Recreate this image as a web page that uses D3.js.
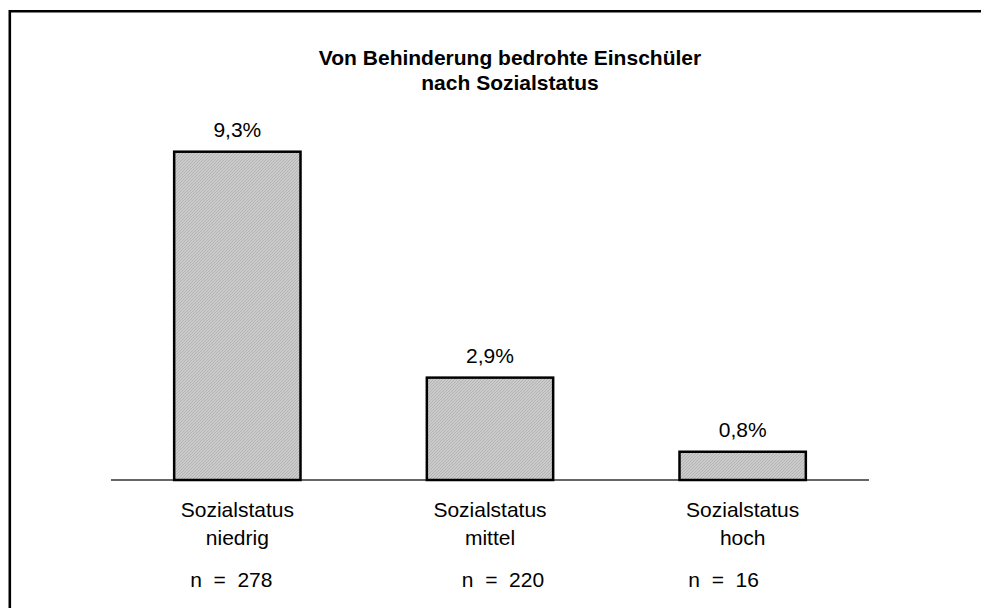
<!DOCTYPE html>
<html>
<head>
<meta charset="utf-8">
<script src="https://cdn.jsdelivr.net/npm/d3@7"></script>
<style>
  body { margin: 0; background: #fff; overflow: hidden; }
  svg { display: block; }
  text { font-family: Arial, "Liberation Sans", sans-serif; fill: #000; }
</style>
</head>
<body>
<div id="bar-chart"></div>
<script>
// Data
const categories = ["niedrig", "mittel", "hoch"];
const shares = [9.3, 2.9, 0.8];
const valueLabels = ["9,3%", "2,9%", "0,8%"];
const sampleSizes = [278, 220, 16];
const titleLines = ["Von Behinderung bedrohte Einschüler", "nach Sozialstatus"];

const drawBarChart = () => {

  /*******************************/
  /*    Declare the constants    */
  /*******************************/
  const width = 981;
  const height = 608;
  const baselineY = 480;
  const fontSize = 21;

  const svg = d3.select("#bar-chart")
    .append("svg")
      .attr("width", width)
      .attr("height", height);

  // Hatched fill of the bars
  const pattern = svg.append("defs")
    .append("pattern")
      .attr("id", "hatch")
      .attr("patternUnits", "userSpaceOnUse")
      .attr("width", 3)
      .attr("height", 3);
  pattern.append("rect")
      .attr("width", 3)
      .attr("height", 3)
      .attr("fill", "#cbcbcb");
  pattern.append("path")
      .attr("d", "M0,3 L3,0 M-1,1 L1,-1 M2,4 L4,2")
      .attr("stroke", "#afafaf")
      .attr("stroke-width", 0.8);

  // Outer frame: only top and left edges are inside the picture
  svg.append("path")
      .attr("d", `M9.8,${height} V11.3 H${width}`)
      .attr("fill", "none")
      .attr("stroke", "#000")
      .attr("stroke-width", 2.6);

  /****************************/
  /*    Declare the scales    */
  /****************************/
  const xScale = d3.scaleBand()
    .domain(categories)
    .range([111, 869])
    .paddingInner(0.5)
    .paddingOuter(0.25);

  const yScale = d3.scaleLinear()
    .domain([0, 10])
    .range([baselineY, baselineY - 353]);

  // Title
  svg.append("text")
      .attr("x", 510)
      .attr("y", 65)
      .attr("text-anchor", "middle")
      .style("font-size", `${fontSize}px`)
      .style("font-weight", "bold")
    .selectAll("tspan")
    .data(titleLines)
    .join("tspan")
      .attr("x", 510)
      .attr("dy", (d, i) => i === 0 ? 0 : 25)
      .text(d => d);

  // Baseline
  svg.append("line")
      .attr("x1", xScale.range()[0])
      .attr("x2", xScale.range()[1])
      .attr("y1", baselineY)
      .attr("y2", baselineY)
      .attr("stroke", "#333")
      .attr("stroke-width", 1.5);

  /***************************/
  /*       Draw the bars     */
  /***************************/
  const data = categories.map((c, i) => ({
    cat: c, value: shares[i], label: valueLabels[i], n: sampleSizes[i]
  }));

  svg.selectAll(".bar")
    .data(data)
    .join("rect")
      .attr("class", "bar")
      .attr("x", d => xScale(d.cat))
      .attr("y", d => yScale(d.value))
      .attr("width", xScale.bandwidth())
      .attr("height", d => baselineY - yScale(d.value))
      .attr("fill", "url(#hatch)")
      .attr("stroke", "#000")
      .attr("stroke-width", 2.5);

  // Value labels
  svg.selectAll(".value-label")
    .data(data)
    .join("text")
      .attr("class", "value-label")
      .attr("x", d => xScale(d.cat) + xScale.bandwidth() / 2)
      .attr("y", d => yScale(d.value) - 15)
      .attr("text-anchor", "middle")
      .style("font-size", `${fontSize}px`)
      .text(d => d.label);

  // Category labels
  const catLabels = svg.selectAll(".cat-label")
    .data(data)
    .join("text")
      .attr("class", "cat-label")
      .attr("text-anchor", "middle")
      .style("font-size", `${fontSize}px`);
  catLabels.append("tspan")
      .attr("x", d => xScale(d.cat) + xScale.bandwidth() / 2)
      .attr("y", 517)
      .text("Sozialstatus");
  catLabels.append("tspan")
      .attr("x", d => xScale(d.cat) + xScale.bandwidth() / 2)
      .attr("y", 545)
      .text(d => d.cat);

  // Sample size labels (slightly shifted as in the original)
  const nShift = [-6, 13, -19];
  svg.selectAll(".n-label")
    .data(data)
    .join("text")
      .attr("class", "n-label")
      .attr("x", (d, i) => xScale(d.cat) + xScale.bandwidth() / 2 + nShift[i])
      .attr("y", 587)
      .attr("text-anchor", "middle")
      .attr("xml:space", "preserve")
      .style("white-space", "pre")
      .style("font-size", `${fontSize}px`)
      .text(d => `n  =  ${d.n}`);
};

drawBarChart();
</script>
</body>
</html>
